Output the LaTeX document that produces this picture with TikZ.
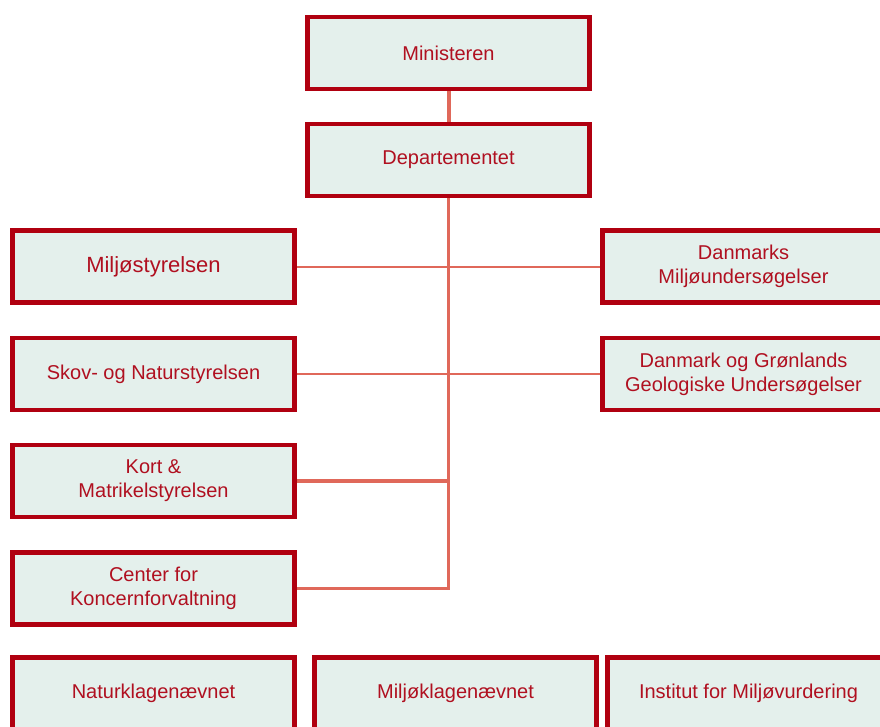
\documentclass[tikz,border=0pt]{standalone}
\usepackage{fontspec}
\setmainfont{Liberation Sans}
\usetikzlibrary{positioning, backgrounds}
\definecolor{boxred}{HTML}{B00010}
\definecolor{boxfill}{HTML}{E4F0EC}
\definecolor{linkred}{HTML}{E0685A}
\definecolor{textred}{HTML}{B01020}

\begin{document}
\begin{tikzpicture}[x=1pt, y=-1pt,
    unit/.style={rectangle, draw=boxred, line width=4.5pt, fill=boxfill, text=textred,
      minimum width=282pt, minimum height=72pt, inner sep=0pt, align=center,
      font=\fontsize{20}{24}\selectfont},
    link/.style={draw=linkred, line width=2pt},
    spine/.style={draw=linkred, line width=4pt}]
    \useasboundingbox (0,0) rectangle (880,727);
    \clip (0,0) rectangle (880,727);

    % ministry and department
    \node[unit] (min) at (448.5,53) {Ministeren};
    \node[unit] (dep) at (448.5,160) {Departementet};

    % agencies, left column
    \node[unit, font=\fontsize{22}{26}\selectfont] (mst) at (153.5,266.5) {Miljøstyrelsen};
    \node[unit] (sns) at (153.5,374) {Skov- og Naturstyrelsen};
    \node[unit] (kms) at (153.5,481) {Kort \&\\Matrikelstyrelsen};
    \node[unit] (cfk) at (153.5,588.5) {Center for\\Koncernforvaltning};

    % research institutes, right column
    \node[unit] (dmu) at (743.5,266.5) {Danmarks\\Miljøundersøgelser};
    \node[unit] (geus) at (743.5,374) {Danmark og Grønlands\\Geologiske Undersøgelser};

    % boards, bottom row
    \node[unit] (nkn) at (153.5,693.5) {Naturklagenævnet};
    \node[unit] (mkn) at (455.5,693.5) {Miljøklagenævnet};
    \node[unit] (imv) at (748.5,693.5) {Institut for Miljøvurdering};

    % connections
    \begin{scope}[on background layer]
        \draw[spine] (min.south) -- (dep.north);
        \draw[spine, line width=3.5pt] (dep.south) |- (cfk.east);
        \draw[link] (mst.east) -- (dmu.west);
        \draw[link] (sns.east) -- (geus.west);
        \draw[spine] (kms.east) -- (kms.east -| dep.south);
    \end{scope}
\end{tikzpicture}
\end{document}
